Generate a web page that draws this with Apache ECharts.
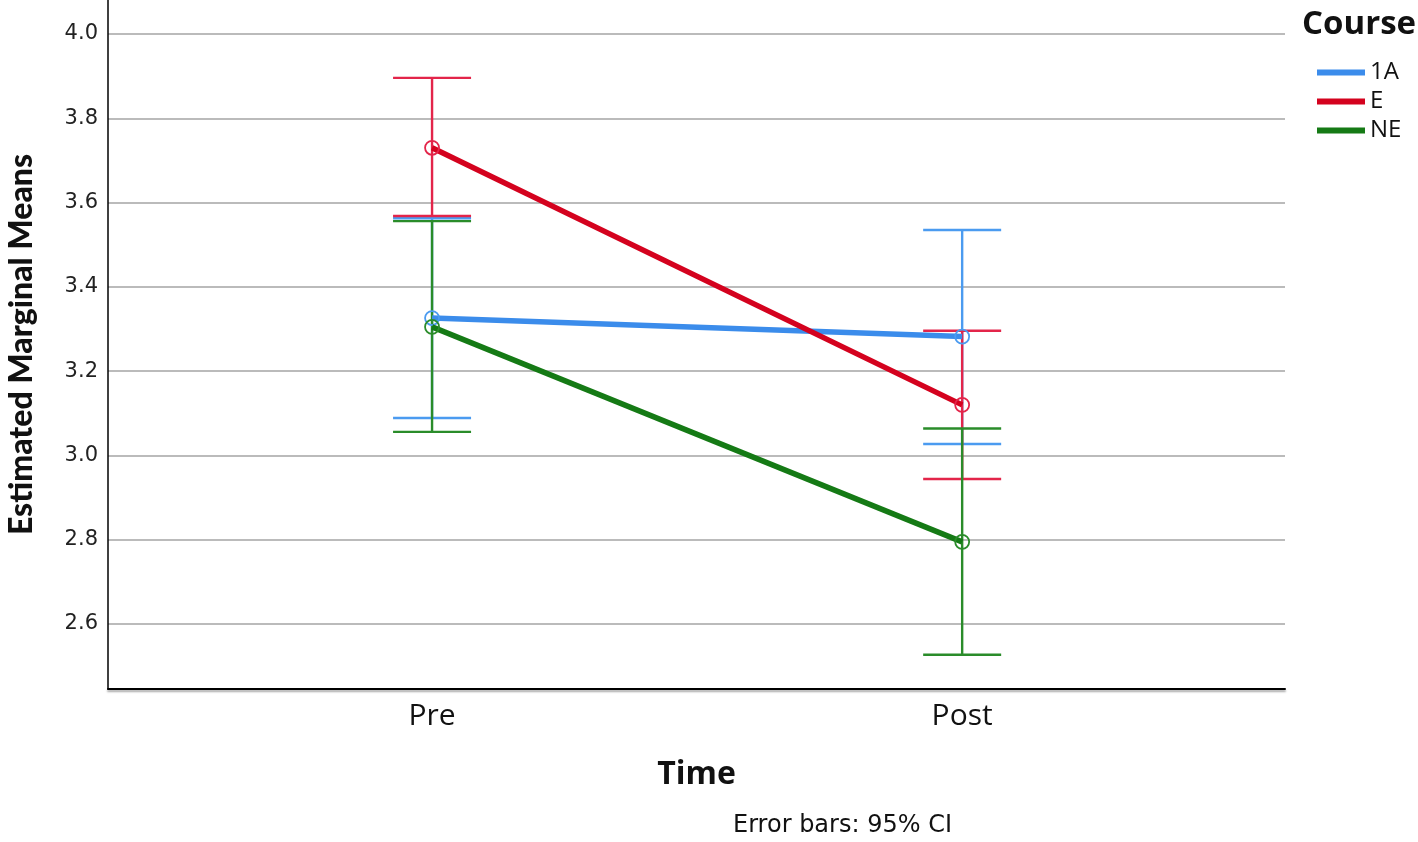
<!DOCTYPE html>
<html>
<head>
<meta charset="utf-8">
<script src="https://cdn.jsdelivr.net/npm/echarts@6/dist/echarts.min.js"></script>
<style>html,body{margin:0;padding:0;background:#fff;}#chart{width:1418px;height:842px;}</style>
</head>
<body>
<div id="chart"></div>
<script>
// ---- data ----
const timeLabels = ['Pre', 'Post'];
const timePositions = [1, 2];
const courses = ['1A', 'E', 'NE'];
const means1A = [3.326, 3.282];
const lower1A = [3.089, 3.027];
const upper1A = [3.563, 3.535];
const meansE = [3.730, 3.120];
const lowerE = [3.568, 2.944];
const upperE = [3.896, 3.296];
const meansNE = [3.305, 2.795];
const lowerNE = [3.056, 2.527];
const upperNE = [3.556, 3.064];
const yTicks = [2.6, 2.8, 3.0, 3.2, 3.4, 3.6, 3.8, 4.0];

const lineColors = ['#3b8ceb', '#d4021e', '#157a15'];
const barColors = ['#4b9bf0', '#e3254a', '#2a8c2a'];
const meansAll = [means1A, meansE, meansNE];
const lowerAll = [lower1A, lowerE, lowerNE];
const upperAll = [upper1A, upperE, upperNE];

const chart = echarts.init(document.getElementById('chart'), null, {renderer: 'canvas'});

function errorSeries(i) {
  return {
    name: courses[i],
    type: 'custom',
    z: 2 + i,
    data: timePositions.map((t, k) => [t, lowerAll[i][k], upperAll[i][k]]),
    renderItem: function (params, api) {
      const lo = api.coord([api.value(0), api.value(1)]);
      const hi = api.coord([api.value(0), api.value(2)]);
      const half = 39;
      const style = {stroke: barColors[i], lineWidth: 2.4};
      return {
        type: 'group',
        children: [
          {type: 'line', shape: {x1: lo[0], y1: lo[1], x2: hi[0], y2: hi[1]}, style: style},
          {type: 'line', shape: {x1: lo[0] - half, y1: lo[1], x2: lo[0] + half, y2: lo[1]}, style: style},
          {type: 'line', shape: {x1: hi[0] - half, y1: hi[1], x2: hi[0] + half, y2: hi[1]}, style: style}
        ]
      };
    }
  };
}

function lineSeries(i) {
  return {
    name: courses[i],
    type: 'line',
    z: 6 + i,
    data: timePositions.map((t, k) => [t, meansAll[i][k]]),
    symbol: 'circle',
    symbolSize: 14,
    lineStyle: {color: lineColors[i], width: 5.5},
    itemStyle: {color: 'rgba(255,255,255,0)', borderColor: barColors[i], borderWidth: 1.8},
    emphasis: {disabled: true},
    animation: false
  };
}

const series = [];
courses.forEach((c, i) => series.push(lineSeries(i)));
courses.forEach((c, i) => series.push(errorSeries(i)));

chart.setOption({
  animation: false,
  backgroundColor: '#ffffff',
  grid: {left: 108, right: 133, top: 0, bottom: 153, containLabel: false, outerBoundsMode: 'none'},
  xAxis: {
    type: 'value',
    min: 0.3887,
    max: 2.609,
    name: 'Time',
    nameLocation: 'middle',
    nameGap: 70,
    nameTextStyle: {fontFamily: 'Open Sans', fontWeight: 'bold', fontSize: 32, color: '#111'},
    axisLine: {show: true, lineStyle: {color: '#000', width: 2, shadowColor: 'rgba(0,0,0,0.35)', shadowOffsetY: 2, shadowBlur: 2}},
    axisTick: {show: false},
    splitLine: {show: false},
    axisLabel: {
      customValues: timePositions,
      formatter: function (v) { const k = timePositions.indexOf(v); return k >= 0 ? timeLabels[k] : ''; },
      fontFamily: 'Open Sans', fontSize: 30, color: '#111', margin: 12
    }
  },
  yAxis: {
    type: 'value',
    min: 2.4458,
    max: 4.0807,
    name: 'Estimated Marginal Means',
    nameLocation: 'middle',
    nameRotate: 90,
    nameGap: 70,
    nameTextStyle: {fontFamily: 'Lato', fontWeight: 900, fontSize: 32, color: '#111'},
    axisLine: {show: true, lineStyle: {color: '#000', width: 1.5}},
    axisTick: {show: false, customValues: yTicks},
    splitLine: {show: true, lineStyle: {color: '#a5a5a5', width: 1.5}},
    axisLabel: {
      customValues: yTicks,
      formatter: function (v) { return v.toFixed(1); },
      fontFamily: 'DejaVu Sans', fontSize: 21, color: '#222', margin: 10
    }
  },
  legend: {
    data: courses.map((c, i) => ({name: c, itemStyle: {color: lineColors[i], borderWidth: 0}})),
    orient: 'vertical',
    left: 1312,
    top: 55,
    icon: 'rect',
    itemWidth: 48,
    itemHeight: 6,
    itemGap: 4,
    textStyle: {fontFamily: 'Open Sans', fontSize: 24, color: '#111', lineHeight: 25}
  },
  graphic: [
    {type: 'text', left: 1302, top: 8, style: {text: 'Course', font: 'bold 33px "Open Sans"', fill: '#111'}},
    {type: 'text', left: 733, top: 814, style: {text: 'Error bars: 95% CI', font: '24px "DejaVu Sans"', fill: '#111'}}
  ],
  series: series
});
</script>
</body>
</html>
